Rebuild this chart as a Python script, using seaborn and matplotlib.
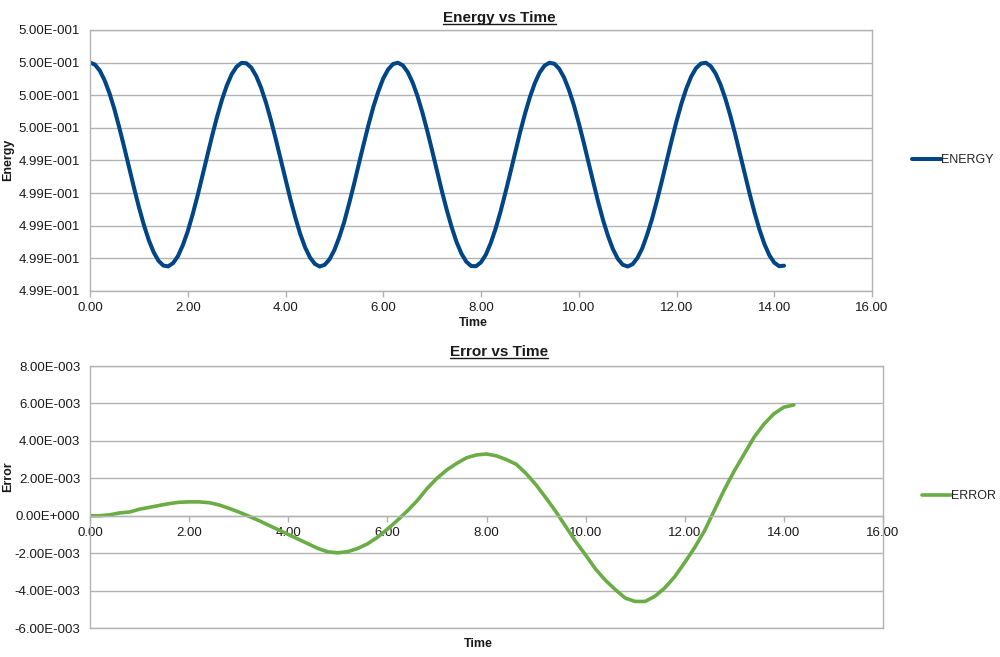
import numpy as np
import pandas as pd
import seaborn as sns
import matplotlib.pyplot as plt
from matplotlib.ticker import FuncFormatter
from matplotlib.lines import Line2D

# energy samples every 0.1 time units
time_energy = [round(0.1 * k, 1) for k in range(143)]
energy = [
    0.500000, 0.499988, 0.499951, 0.499891, 0.499811, 0.499713, 0.499601, 0.499481,
    0.499357, 0.499233, 0.499115, 0.499007, 0.498914, 0.498839, 0.498786, 0.498756,
    0.498751, 0.498771, 0.498814, 0.498881, 0.498966, 0.499069, 0.499183, 0.499305,
    0.499429, 0.499553, 0.499668, 0.499772, 0.499860, 0.499929, 0.499975, 0.499998,
    0.499996, 0.499969, 0.499918, 0.499846, 0.499755, 0.499649, 0.499532, 0.499409,
    0.499284, 0.499163, 0.499051, 0.498951, 0.498868, 0.498806, 0.498766, 0.498750,
    0.498760, 0.498794, 0.498851, 0.498929, 0.499022, 0.499134, 0.499252, 0.499378,
    0.499501, 0.499621, 0.499731, 0.499824, 0.499903, 0.499958, 0.499991, 0.499999,
    0.499983, 0.499942, 0.499879, 0.499795, 0.499695, 0.499582, 0.499461, 0.499336,
    0.499212, 0.499096, 0.498991, 0.498900, 0.498829, 0.498779, 0.498753, 0.498752,
    0.498776, 0.498823, 0.498894, 0.498983, 0.499087, 0.499203, 0.499325, 0.499450,
    0.499573, 0.499686, 0.499788, 0.499873, 0.499939, 0.499981, 0.499999, 0.499993,
    0.499962, 0.499908, 0.499832, 0.499739, 0.499630, 0.499512, 0.499388, 0.499264,
    0.499143, 0.499032, 0.498936, 0.498856, 0.498797, 0.498761, 0.498750, 0.498764,
    0.498802, 0.498862, 0.498946, 0.499042, 0.499154, 0.499274, 0.499399, 0.499522,
    0.499640, 0.499748, 0.499840, 0.499914, 0.499966, 0.499994, 0.499999, 0.499978,
    0.499933, 0.499866, 0.499779, 0.499676, 0.499562, 0.499439, 0.499315, 0.499192,
    0.499077, 0.498974, 0.498887, 0.498819, 0.498774, 0.498752, 0.498755,
]

# error samples every 0.2 time units, in units of 1e-3
time_error = [round(0.2 * k, 1) for k in range(72)]
error_e3 = [
    0.00, 0.00, 0.05, 0.15, 0.20, 0.35, 0.45, 0.55, 0.65, 0.72,
    0.74, 0.74, 0.70, 0.58, 0.40, 0.20, -0.02, -0.25, -0.50, -0.75,
    -1.00, -1.25, -1.50, -1.75, -1.93, -1.98, -1.92, -1.75, -1.50, -1.15,
    -0.72, -0.25, 0.25, 0.80, 1.45, 2.00, 2.45, 2.80, 3.10, 3.25,
    3.30, 3.20, 3.00, 2.75, 2.25, 1.65, 0.95, 0.22, -0.58, -1.38,
    -2.10, -2.85, -3.45, -3.95, -4.40, -4.58, -4.58, -4.30, -3.85, -3.25,
    -2.50, -1.70, -0.80, 0.30, 1.40, 2.40, 3.30, 4.20, 4.90, 5.45,
    5.80, 5.92,
]

energy_ticks = [0.4986, 0.4988, 0.4990, 0.4992, 0.4994, 0.4996, 0.4998, 0.5000, 0.5002]
error_ticks = [-6e-3, -4e-3, -2e-3, 0.0, 2e-3, 4e-3, 6e-3, 8e-3]
time_ticks = [0, 2, 4, 6, 8, 10, 12, 14, 16]

df_e = pd.DataFrame({'Time': time_energy, 'ENERGY': energy})
df_r = pd.DataFrame({'Time': time_error, 'ERROR': [v * 1e-3 for v in error_e3]})

sns.set_style('white')
plt.rcParams['font.family'] = ['Liberation Sans', 'DejaVu Sans']

GRID = '#b3b3b3'
TXT = '#1a1a1a'


def sci_fmt(v, pos=None):
    if abs(v) < 1e-12:
        return '0.00E+000'
    e = int(np.floor(np.log10(abs(v))))
    m = v / 10 ** e
    if abs(round(m, 2)) >= 10:
        e += 1
        m = v / 10 ** e
    sign = '-' if e < 0 else '+'
    return f'{m:.2f}E{sign}{abs(e):03d}'


def style_axes(ax, yticks, ylim):
    ax.set_xlim(0, 16)
    ax.set_ylim(*ylim)
    ax.set_xticks(time_ticks)
    ax.set_yticks(yticks)
    ax.xaxis.set_major_formatter(FuncFormatter(lambda v, p: f'{v:.2f}'))
    ax.yaxis.set_major_formatter(FuncFormatter(sci_fmt))
    ax.grid(axis='y', color=GRID, linewidth=1.0)
    ax.grid(axis='x', visible=False)
    for s in ax.spines.values():
        s.set_color(GRID)
        s.set_linewidth(1.0)
    ax.tick_params(axis='both', which='both', labelsize=9.5, labelcolor=TXT,
                   color=GRID, length=4, width=1, direction='out')
    ax.tick_params(axis='y', pad=3)
    ax.tick_params(axis='x', pad=4, bottom=True)
    ax.set_xlabel('')
    ax.set_ylabel('')


fig = plt.figure(figsize=(10, 6.57), dpi=100)

ax1 = fig.add_axes([0.090, 0.5571, 0.782, 0.3973])
sns.lineplot(data=df_e, x='Time', y='ENERGY', ax=ax1, color='#004586',
             linewidth=2.9, label='ENERGY')
style_axes(ax1, energy_ticks, (0.4986, 0.5002))
ax1.legend(loc='center left', bbox_to_anchor=(0.912, 0.7565),
           bbox_transform=fig.transFigure, frameon=False, fontsize=9,
           handlelength=2.3, handletextpad=0.05, borderpad=0, borderaxespad=0)

ax2 = fig.add_axes([0.090, 0.0441, 0.793, 0.3988])
sns.lineplot(data=df_r, x='Time', y='ERROR', ax=ax2, color='#6aad45',
             linewidth=2.6, label='ERROR')
style_axes(ax2, error_ticks, (-6e-3, 8e-3))
ax2.spines['bottom'].set_position(('data', 0))
ax2.plot([0, 16], [-6e-3, -6e-3], color=GRID, linewidth=1.0, zorder=0,
         clip_on=False)
ax2.legend(loc='center left', bbox_to_anchor=(0.922, 0.245),
           bbox_transform=fig.transFigure, frameon=False, fontsize=9,
           handlelength=2.3, handletextpad=0.05, borderpad=0, borderaxespad=0)

# axis labels
lab = dict(fontsize=9, fontweight='bold', color=TXT)
fig.text(0.473, 0.5084, 'Time', ha='center', va='center', **lab)
fig.text(0.478, 0.0198, 'Time', ha='center', va='center', **lab)
fig.text(0.008, 0.7565, 'Energy', rotation=90, ha='center', va='center', **lab)
fig.text(0.008, 0.274, 'Error', rotation=90, ha='center', va='center', **lab)

# titles, underlined
t1 = fig.text(0.4995, 1 - 18 / 657, 'Energy vs Time', ha='center', va='center',
              fontsize=11, fontweight='bold', color=TXT)
t2 = fig.text(0.499, 1 - 352 / 657, 'Error vs Time', ha='center', va='center',
              fontsize=11, fontweight='bold', color=TXT)
fig.canvas.draw()
r = fig.canvas.get_renderer()
inv = fig.transFigure.inverted()
for t in (t1, t2):
    bb = t.get_window_extent(renderer=r)
    (x0, y0), (x1, _) = inv.transform([(bb.x0, bb.y0), (bb.x1, bb.y1)])
    fig.add_artist(Line2D([x0, x1], [y0 + 0.001, y0 + 0.001], color=TXT,
                          linewidth=1.0, transform=fig.transFigure))

fig.savefig('out.png', dpi=100, facecolor='white')
